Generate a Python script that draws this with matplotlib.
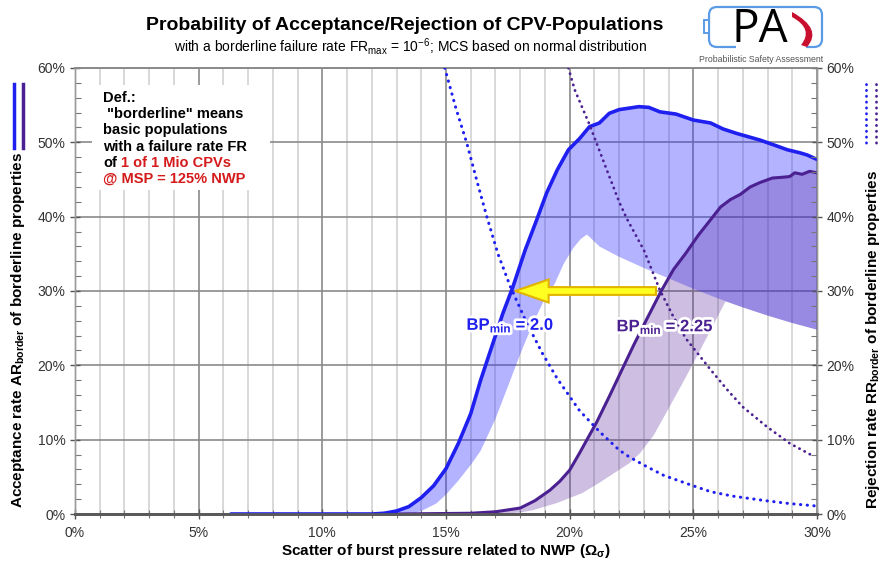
import numpy as np
import matplotlib
matplotlib.use("Agg")
import matplotlib.pyplot as plt
from matplotlib.ticker import MultipleLocator, PercentFormatter
from matplotlib.patches import FancyArrow, Rectangle, PathPatch
from matplotlib.path import Path
from matplotlib.lines import Line2D
import matplotlib.patheffects as pe

plt.rcParams["font.family"] = ["Liberation Sans", "DejaVu Sans"]
plt.rcParams["mathtext.fontset"] = "custom"
plt.rcParams["mathtext.rm"] = "Liberation Sans"
plt.rcParams["mathtext.bf"] = "Liberation Sans:bold"
plt.rcParams["mathtext.it"] = "Liberation Sans:italic"

# -------------------------------
# Data (x = scatter in %, y = rate in %)
# -------------------------------
# acceptance rate, BPmin = 2.0 (solid blue)
ar20_x = [6.3, 12.0, 12.5, 13.0, 13.5, 14.0, 14.5, 15.0, 15.5, 16.0, 16.4, 16.9, 17.3, 17.7,
          18.2, 18.67, 19.07, 19.5, 19.95, 20.4, 20.8, 21.2, 21.6, 22.0, 22.8, 23.2, 23.65,
          24.3, 25.0, 25.7, 26.2, 26.75, 27.7, 28.3, 28.8, 29.3, 29.6, 30.0]
ar20_y = [0.0, 0.0, 0.1, 0.4, 1.0, 2.2, 3.8, 6.1, 9.5, 13.5, 18.0, 23.0, 27.0, 30.5,
          35.5, 39.6, 43.2, 46.3, 49.0, 50.5, 52.1, 52.6, 53.9, 54.4, 54.8, 54.7, 54.1,
          53.8, 53.0, 52.6, 51.8, 51.2, 50.3, 49.6, 49.0, 48.6, 48.3, 47.7]
# lower edge of the BPmin = 2.0 band
lo20_x = [13.0, 13.6, 14.0, 14.6, 15.0, 15.5, 16.0, 16.4, 17.0, 17.6, 18.0, 18.5, 19.0, 19.4,
          19.75, 20.15, 20.45, 20.7, 21.2, 22.0, 23.0, 24.0, 25.0, 26.0, 27.0, 28.0, 29.0, 30.0]
lo20_y = [0.0, 0.0, 0.4, 1.4, 2.6, 4.5, 6.6, 8.5, 12.8, 18.0, 21.5, 25.5, 29.0, 31.0,
          33.6, 35.8, 37.0, 37.6, 36.0, 34.6, 33.1, 31.7, 30.3, 29.0, 27.8, 26.7, 25.7, 24.8]

# acceptance rate, BPmin = 2.25 (solid purple)
ar225_x = [13.0, 16.0, 17.0, 18.0, 18.6, 19.2, 19.6, 20.0, 20.4, 21.1, 21.6, 22.17, 22.6, 23.1,
           23.7, 24.2, 24.7, 25.2, 25.7, 26.1, 26.5, 26.9, 27.3, 27.7, 28.2, 28.6, 28.9, 29.1,
           29.4, 29.7, 30.0]
ar225_y = [0.0, 0.1, 0.3, 0.8, 1.8, 3.2, 4.4, 5.9, 8.2, 12.4, 15.8, 19.8, 22.8, 26.1,
           30.0, 32.9, 35.1, 37.5, 39.6, 41.3, 42.3, 43.0, 44.0, 44.6, 45.2, 45.3, 45.4, 45.9,
           45.7, 46.1, 45.9]
# lower edge of the BPmin = 2.25 band
lo225_x = [17.0, 17.2, 18.0, 18.5, 19.5, 20.5, 21.2, 21.8, 22.4, 22.85, 23.4, 23.9, 24.5,
           25.0, 25.6, 26.3, 27.0, 28.0, 29.0, 30.0]
lo225_y = [0.0, 0.0, 0.2, 0.5, 1.5, 2.8, 4.2, 5.5, 6.8, 8.2, 10.6, 13.6, 17.2,
           20.3, 24.1, 28.6, 27.8, 26.7, 25.7, 24.8]

# rejection rates (dotted, right axis)
rr20_x = [14.95, 15.4, 15.84, 16.25, 16.65, 17.1, 17.6, 18.25, 18.9, 19.5, 20.4, 21.2, 22.0,
          22.4, 23.1, 23.8, 24.9, 25.7, 26.6, 27.9, 28.9, 29.9]
rr20_y = [60.0, 54.6, 49.9, 44.8, 40.0, 35.0, 30.6, 25.8, 21.6, 18.2, 13.9, 11.1, 8.6,
          7.7, 6.4, 5.2, 3.9, 3.0, 2.4, 1.8, 1.4, 1.1]
rr225_x = [19.95, 20.2, 20.8, 21.5, 22.0, 22.3, 23.0, 23.65, 24.2, 24.7, 25.7, 26.4, 27.0,
           27.97, 28.9, 29.9]
rr225_y = [60.0, 57.1, 52.4, 46.3, 42.0, 39.8, 35.5, 30.1, 26.5, 23.6, 19.4, 16.6, 14.4,
           11.75, 9.5, 7.7]

BLUE = "#1f1ff0"
PURPLE = "#4b2091"


def pct(v):
    return np.asarray(v) / 100.0


W, H = 881, 570
fig = plt.figure(figsize=(W / 100, H / 100), dpi=100)
ax = fig.add_axes([75 / W, 1 - 514 / H, (817 - 75) / W, (514 - 68) / H])
ax2 = ax.twinx()

# -------------------------------
# Grid / axes
# -------------------------------
ax.set_xlim(0, 0.30)
ax.set_ylim(0, 0.60)
ax2.set_ylim(0, 0.60)
ax.xaxis.set_major_locator(MultipleLocator(0.05))
ax.xaxis.set_minor_locator(MultipleLocator(0.01))
for a in (ax, ax2):
    a.yaxis.set_major_locator(MultipleLocator(0.10))
    a.yaxis.set_minor_locator(MultipleLocator(0.02))
    a.yaxis.set_major_formatter(PercentFormatter(1.0, decimals=0))
ax.xaxis.set_major_formatter(PercentFormatter(1.0, decimals=0))

ax.set_axisbelow(True)
ax.grid(True, which="minor", axis="x", color="#d6d6d6", lw=1.3)
ax.grid(True, which="major", axis="x", color="#8a8a8a", lw=1.2)
ax.grid(True, which="major", axis="y", color="#8a8a8a", lw=1.2)

for a in (ax, ax2):
    for s in ("left", "right"):
        a.spines[s].set_color("#9a9a9a")
        a.spines[s].set_linewidth(1.0)
    a.spines["top"].set_color("#8a8a8a")
    a.spines["top"].set_linewidth(1.2)
    a.spines["bottom"].set_color("#5a5a5a")
    a.spines["bottom"].set_linewidth(2.0)
    a.tick_params(which="major", direction="inout", length=7, width=1.0, color="#555555",
                  labelsize=10, labelcolor="#333333")
    a.tick_params(which="minor", direction="in", length=4, width=0.8, color="#777777")
ax.tick_params(axis="x", which="major", pad=5)
ax.tick_params(axis="x", which="minor", direction="inout", length=6)

# -------------------------------
# Bands and curves
# -------------------------------
ax.fill(np.r_[pct(ar20_x[3:]), pct(lo20_x[::-1])], np.r_[pct(ar20_y[3:]), pct(lo20_y[::-1])],
        color="#3232ff", alpha=0.37, lw=0, zorder=2)
ax.fill(np.r_[pct(ar225_x[1:]), pct(lo225_x[::-1])], np.r_[pct(ar225_y[1:]), pct(lo225_y[::-1])],
        color="#5a2aa0", alpha=0.30, lw=0, zorder=2)

ax.plot(pct(ar225_x), pct(ar225_y), color=PURPLE, lw=2.2, zorder=4, solid_capstyle="round")
ax.plot(pct(ar20_x), pct(ar20_y), color=BLUE, lw=2.6, zorder=5, solid_capstyle="round")

ax2.plot(pct(rr20_x), pct(rr20_y), color=BLUE, lw=2.2, ls=(0, (0.1, 2.1)),
         dash_capstyle="round", zorder=3)
ax2.plot(pct(rr225_x), pct(rr225_y), color=PURPLE, lw=2.0, ls=(0, (0.1, 2.0)),
         dash_capstyle="round", zorder=3)

# arrow from BPmin 2.25 to BPmin 2.0 at 30 %
ax2.add_patch(FancyArrow(0.2349, 0.30, 0.178 - 0.2349, 0.0, width=0.0105, head_width=0.031,
                         head_length=0.0135, length_includes_head=True,
                         fc="#ffff22", ec="#e2b400", lw=1.5, zorder=9))

stroke = [pe.withStroke(linewidth=4, foreground="white")]
ax2.text(0.176, 0.254, "BP$_{\\mathbf{min}}$ = 2.0", color=BLUE, fontsize=12, fontweight="bold",
         ha="center", va="center", zorder=10, path_effects=stroke)
ax2.text(0.2386, 0.252, "BP$_{\\mathbf{min}}$ = 2.25", color=PURPLE, fontsize=12,
         fontweight="bold", ha="center", va="center", zorder=10, path_effects=stroke)

# definition box
ax.add_patch(Rectangle((0.0069, 0.436), 0.072, 0.141, fc="white", ec="none", zorder=6))
def_lines = ["Def.:", " \"borderline\" means", "basic populations", "with a failure rate FR"]
for i, line in enumerate(def_lines):
    fig.text(103 / W, 1 - (98 + 16.2 * i) / H, line, fontsize=10.5, fontweight="bold",
             ha="left", va="center", color="black")
fig.text(103 / W, 1 - 163 / H, "of", fontsize=10.5, fontweight="bold", va="center")
fig.text(121 / W, 1 - 163 / H, "1 of 1 Mio CPVs", fontsize=10.5, fontweight="bold",
         va="center", color="#d41a1a")
fig.text(103 / W, 1 - 179 / H, "@ MSP = 125% NWP", fontsize=10.5, fontweight="bold",
         va="center", color="#d41a1a")

# -------------------------------
# Titles and axis labels
# -------------------------------
fig.text(405 / W, 1 - 25 / H, "Probability of Acceptance/Rejection of CPV-Populations",
         fontsize=14, fontweight="bold", ha="center", va="center")
fig.text(411 / W, 1 - 46 / H,
         "with a borderline failure rate FR$_{\\mathrm{max}}$ = 10$^{\\mathrm{-6}}$; "
         "MCS based on normal distribution",
         fontsize=10, ha="center", va="center")
fig.text(446 / W, 1 - 551 / H, "Scatter of burst pressure related to NWP (Ω$_{\\mathbf{σ}}$)",
         fontsize=11, fontweight="bold", ha="center", va="center")
fig.text(18 / W, 1 - 330 / H, "Acceptance rate AR$_{\\mathbf{border}}$ of borderline properties",
         fontsize=11, fontweight="bold", rotation=90, ha="center", va="center")
fig.text(873 / W, 1 - 339 / H, "Rejection rate RR$_{\\mathbf{border}}$ of borderline properties",
         fontsize=11, fontweight="bold", rotation=90, ha="center", va="center")

# line keys beside the axis labels
fig.add_artist(Line2D([14 / W, 14 / W], [1 - 84 / H, 1 - 148 / H], color=BLUE, lw=2.5))
fig.add_artist(Line2D([23 / W, 23 / W], [1 - 84 / H, 1 - 148 / H], color=PURPLE, lw=2.5))
fig.add_artist(Line2D([866 / W, 866 / W], [1 - 84 / H, 1 - 148 / H], color=BLUE, lw=2.0,
                      ls=(0, (0.1, 2.0)), dash_capstyle="round"))
fig.add_artist(Line2D([876 / W, 876 / W], [1 - 84 / H, 1 - 148 / H], color=PURPLE, lw=2.0,
                      ls=(0, (0.1, 2.0)), dash_capstyle="round"))

# -------------------------------
# Logo
# -------------------------------
lg = fig.add_axes([695 / W, 1 - 66 / H, 135 / W, 66 / H])
lg.set_xlim(695, 830)
lg.set_ylim(66, 0)
lg.axis("off")
C = Path.CURVE3
verts = [(736, 47), (717, 47), (709, 47), (709, 39), (709, 15), (709, 7), (717, 7),
         (814, 7), (822, 7), (822, 15), (822, 39), (822, 47), (814, 47), (806, 47)]
codes = [Path.MOVETO, Path.LINETO, C, C, Path.LINETO, C, C, Path.LINETO, C, C,
         Path.LINETO, C, C, Path.LINETO]
lg.add_patch(PathPatch(Path(verts, codes), fc="none", ec="#5b9be6", lw=1.6))
lg.add_patch(Rectangle((703.5, 20), 5.5, 13, fc="white", ec="#5b9be6", lw=1.4))
red = [(792, 12), (823, 29), (807, 47), (801, 45), (814, 29), (792, 17), (792, 12)]
rcodes = [Path.MOVETO, C, C, Path.LINETO, C, C, Path.CLOSEPOLY]
lg.add_patch(PathPatch(Path(red, rcodes), fc="#c8102e", ec="none"))
lg.text(760, 30, "PA", fontsize=33, ha="center", va="center", color="black",
        family="Open Sans")
lg.text(761, 59, "Probabilistic Safety Assessment", fontsize=6.3, ha="center", va="center",
        color="#555555")

fig.savefig("out.png", dpi=100)
